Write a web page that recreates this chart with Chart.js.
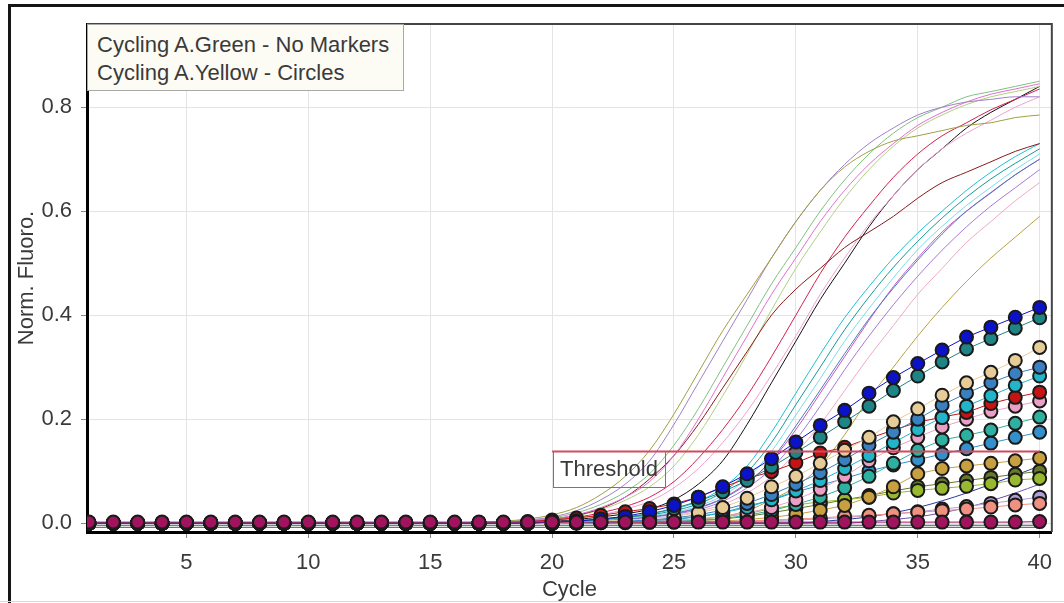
<!DOCTYPE html>
<html>
<head>
<meta charset="utf-8">
<script src="https://cdn.jsdelivr.net/npm/chart.js@4.4.1/dist/chart.umd.min.js"></script>
<style>
  html, body { margin: 0; padding: 0; background: #fff; }
  #wrap { position: relative; width: 1064px; height: 603px; overflow: hidden; }
  #frame { position: absolute; left: 8px; top: 4px; width: 1100px; height: 640px; border-left: 3px solid #151515; border-top: 3px solid #151515; }
  #base { position: absolute; left: 0; top: 601px; width: 1064px; height: 1px; background: #d8d8d8; }
  #c { position: absolute; left: 0; top: 0; }
  #legend {
    position: absolute; left: 87px; top: 24px; width: 317px; height: 67px; box-sizing: border-box;
    background: #fcfcf4; border: 1px solid #a8a8a8; padding: 6px 0 0 9px;
    font: 22px "Liberation Sans", Arial, sans-serif; line-height: 28px; color: #3a3a3a; white-space: nowrap;
  }
</style>
</head>
<body>
<div id="wrap">
  <div id="frame"></div>
  <div id="base"></div>
  <canvas id="c" width="1064" height="603"></canvas>
  <div id="legend">Cycling A.Green - No Markers<br>Cycling A.Yellow - Circles</div>
</div>
<script>
// qPCR amplification plot — Cycling A.Green (lines) + Cycling A.Yellow (circles)
const cycles = [1,2,3,4,5,6,7,8,9,10, 11,12,13,14,15,16,17,18,19,20,
  21,22,23,24,25,26,27,28,29,30, 31,32,33,34,35,36,37,38,39,40];

const thresholdCycles = [20, 40];
const thresholdValue = 0.138;

// --- Cycling A.Green (no markers) ---
const gOlive = [0,0,0,0,0,0,0,0,0,0, 0,0,0,0,0,0,.002,.004,.008,.016,
  .03,.055,.09,.14,.21,.29,.37,.44,.51,.58, .64,.685,.715,.735,.745,.755,.765,.77,.78,.785];
const gPurple = [0,0,0,0,0,0,0,0,0,0, 0,0,0,0,0,0,.001,.003,.006,.012,
  .024,.045,.075,.12,.19,.27,.35,.43,.51,.58, .64,.69,.73,.76,.785,.80,.81,.815,.82,.82];
const gGreen = [0,0,0,0,0,0,0,0,0,0, 0,0,0,0,0,0,0,.002,.005,.01,
  .02,.036,.06,.095,.15,.22,.30,.38,.46,.53, .60,.66,.71,.75,.78,.80,.82,.83,.84,.85];
const gPink = [0,0,0,0,0,0,0,0,0,0, 0,0,0,0,0,0,0,.002,.004,.008,
  .016,.03,.05,.08,.13,.20,.28,.36,.44,.51, .58,.64,.69,.73,.765,.79,.81,.825,.835,.845];
const gDarkRed = [0,0,0,0,0,0,0,0,0,0, 0,0,0,0,0,0,0,.002,.004,.008,
  .015,.028,.05,.085,.13,.19,.26,.33,.40,.45, .49,.53,.56,.59,.625,.655,.675,.695,.715,.73];
const gRed = [0,0,0,0,0,0,0,0,0,0, 0,0,0,0,0,0,0,0,.003,.006,
  .011,.02,.032,.05,.08,.125,.18,.245,.32,.40, .48,.55,.61,.665,.71,.745,.77,.795,.815,.835];
const gRose = [0,0,0,0,0,0,0,0,0,0, 0,0,0,0,0,0,0,0,.002,.005,
  .009,.016,.027,.042,.068,.105,.155,.215,.285,.36, .44,.51,.575,.63,.68,.72,.75,.775,.80,.82];
const gLime = [0,0,0,0,0,0,0,0,0,0, 0,0,0,0,0,0,0,0,.003,.007,
  .014,.026,.044,.07,.11,.17,.245,.325,.41,.49, .56,.625,.68,.725,.76,.785,.805,.82,.83,.84];
const gBlack = [0,0,0,0,0,0,0,0,0,0, 0,0,0,0,0,0,0,0,.002,.004,
  .007,.012,.018,.027,.045,.075,.12,.19,.27,.35, .43,.50,.57,.63,.68,.72,.76,.79,.815,.84];
const gCyan = [0,0,0,0,0,0,0,0,0,0, 0,0,0,0,0,0,0,0,0,.003,
  .005,.008,.012,.018,.027,.042,.068,.11,.175,.25, .325,.395,.455,.51,.558,.60,.64,.675,.705,.73];
const gTeal = [0,0,0,0,0,0,0,0,0,0, 0,0,0,0,0,0,0,0,0,.002,
  .004,.007,.011,.016,.024,.037,.06,.098,.155,.228, .30,.372,.435,.492,.542,.587,.627,.662,.692,.72];
const gAqua = [0,0,0,0,0,0,0,0,0,0, 0,0,0,0,0,0,0,0,0,.002,
  .004,.006,.01,.014,.021,.033,.053,.086,.138,.208, .278,.35,.413,.472,.526,.571,.611,.646,.68,.71];
const gSteel = [0,0,0,0,0,0,0,0,0,0, 0,0,0,0,0,0,0,0,0,0,
  .003,.005,.008,.012,.018,.029,.047,.076,.122,.187, .256,.326,.393,.452,.506,.556,.60,.636,.67,.70];
const gMagenta = [0,0,0,0,0,0,0,0,0,0, 0,0,0,0,0,0,0,0,0,0,
  .003,.005,.008,.012,.019,.03,.048,.078,.12,.18, .25,.32,.39,.455,.51,.56,.60,.635,.67,.70];
const gViolet = [0,0,0,0,0,0,0,0,0,0, 0,0,0,0,0,0,0,0,0,0,
  .002,.004,.007,.011,.017,.026,.042,.068,.105,.16, .225,.295,.36,.42,.475,.525,.57,.61,.645,.68];
const gBlush = [0,0,0,0,0,0,0,0,0,0, 0,0,0,0,0,0,0,0,0,0,
  .002,.004,.006,.009,.014,.023,.036,.058,.09,.135, .19,.255,.32,.38,.44,.49,.54,.58,.62,.655];
const gOchre = [0,0,0,0,0,0,0,0,0,0, 0,0,0,0,0,0,0,0,0,0,
  0,0,0,0,.003,.007,.013,.024,.045,.07, .11,.17,.24,.30,.36,.415,.465,.51,.55,.59];
const gNavy = [0,0,0,0,0,0,0,0,0,0, 0,0,0,0,0,0,0,0,0,0,
  0,0,0,0,0,0,0,0,0,0, .003,.007,.012,.02,.03,.043,.058,.075,.092,.11];
const gPlum = [0,0,0,0,0,0,0,0,0,0, 0,0,0,0,0,0,0,0,0,0,
  0,0,0,0,0,0,0,0,0,0, 0,0,.003,.007,.012,.02,.03,.043,.058,.075];
const gSlate = [-.004,-.004,-.004,-.004,-.004,-.004,-.004,-.004,-.004,-.004,
  -.004,-.004,-.004,-.004,-.004,-.004,-.004,-.004,-.004,-.004,
  -.004,-.004,-.004,-.004,-.004,-.004,-.004,-.004,-.004,-.004,
  -.004,-.004,-.004,-.004,-.004,-.004,-.004,-.004,-.004,-.004];
const gMoss = [-.008,-.008,-.008,-.008,-.008,-.008,-.008,-.008,-.008,-.008,
  -.008,-.008,-.008,-.008,-.008,-.008,-.008,-.008,-.008,-.008,
  -.008,-.008,-.008,-.008,-.008,-.008,-.008,-.008,-.008,-.008,
  -.008,-.008,-.008,-.008,-.008,-.008,-.008,-.008,-.008,-.008];

const greenCurves = [gOlive, gPurple, gGreen, gPink, gDarkRed, gRed, gRose, gLime, gBlack,
  gCyan, gTeal, gAqua, gSteel, gMagenta, gViolet, gBlush, gOchre, gNavy, gPlum, gSlate, gMoss];
const greenColors = ['#a0a040', '#a080c8', '#80c080', '#e070d0', '#8a1a1a', '#d42050', '#f0a0d0', '#b0d080', '#111111',
  '#20c0d0', '#189898', '#78dce8', '#4a7cc0', '#d050c0', '#a878d8', '#f0a8c8', '#b8a040', '#2838a0', '#7050a8', '#3c5a66', '#40603c'];

// --- Cycling A.Yellow (circles) ---
const yMaroon = [.002,.002,.002,.002,.002,.002,.002,.002,.002,.002,
  .002,.002,.002,.002,.002,.002,.002,.002,.002,.002,
  .002,.002,.002,.002,.002,.002,.002,.002,.002,.002,
  .002,.002,.002,.002,.002,.002,.002,.002,.002,.003];
const yBlue = [0,0,0,0,0,0,0,0,0,0, 0,0,0,0,0,0,0,0,0,.002,
  .004,.008,.013,.022,.034,.05,.07,.095,.124,.156, .188,.217,.25,.28,.307,.333,.358,.377,.396,.415];
const yTealDark = [0,0,0,0,0,0,0,0,0,0, 0,0,0,0,0,0,0,0,0,.002,
  .004,.007,.011,.018,.028,.042,.06,.082,.108,.136, .165,.195,.225,.255,.283,.31,.335,.355,.375,.395];
const yTan = [0,0,0,0,0,0,0,0,0,0, 0,0,0,0,0,0,0,0,0,0,
  .002,.004,.006,.008,.013,.02,.03,.048,.07,.09, .115,.14,.165,.195,.22,.246,.27,.29,.313,.338];
const ySteel = [0,0,0,0,0,0,0,0,0,0, 0,0,0,0,0,0,0,0,0,0,
  .002,.003,.004,.006,.01,.016,.025,.038,.055,.075, .097,.122,.15,.175,.20,.227,.25,.27,.288,.30];
const yCyan = [0,0,0,0,0,0,0,0,0,0, 0,0,0,0,0,0,0,0,0,0,
  .001,.002,.003,.005,.008,.013,.02,.03,.045,.062, .082,.105,.13,.155,.18,.203,.225,.245,.265,.283];
const yRed = [0,0,0,0,0,0,0,0,0,0, 0,0,0,0,0,0,0,0,.003,.006,
  .01,.015,.022,.028,.037,.05,.069,.086,.099,.116, .135,.146,.163,.179,.194,.204,.213,.23,.242,.252];
const yPink = [0,0,0,0,0,0,0,0,0,0, 0,0,0,0,0,0,0,0,0,0,
  .001,.002,.003,.004,.005,.008,.013,.02,.03,.045, .065,.09,.12,.145,.165,.185,.20,.215,.225,.235];
const yTeal = [0,0,0,0,0,0,0,0,0,0, 0,0,0,0,0,0,0,0,0,0,
  .001,.002,.003,.004,.004,.005,.009,.015,.024,.036, .05,.068,.09,.115,.14,.16,.169,.179,.192,.204];
const ySky = [0,0,0,0,0,0,0,0,0,0, 0,0,0,0,0,0,0,0,0,0,
  .001,.002,.003,.004,.007,.012,.02,.033,.044,.06, .073,.086,.10,.112,.122,.133,.143,.154,.165,.175];
const yGold = [0,0,0,0,0,0,0,0,0,0, 0,0,0,0,0,0,0,0,0,0,
  .001,.002,.002,.003,.003,.004,.004,.007,.011,.017, .025,.034,.05,.07,.095,.105,.11,.115,.12,.125];
const yLime = [0,0,0,0,0,0,0,0,0,0, 0,0,0,0,0,0,0,0,0,0,
  .001,.002,.003,.004,.005,.008,.012,.018,.028,.035, .041,.045,.05,.058,.063,.067,.071,.076,.083,.086];
const yOlive = [0,0,0,0,0,0,0,0,0,0, 0,0,0,0,0,0,0,0,0,0,
  .001,.002,.003,.004,.004,.005,.008,.013,.02,.028, .036,.045,.053,.062,.07,.076,.082,.088,.094,.10];
const ySalmon = [0,0,0,0,0,0,0,0,0,0, 0,0,0,0,0,0,0,0,0,0,
  .001,.001,.002,.002,.003,.003,.003,.004,.006,.008, .01,.013,.015,.018,.021,.024,.027,.031,.035,.038];
const yLavender = [0,0,0,0,0,0,0,0,0,0, 0,0,0,0,0,0,0,0,0,0,
  0,.001,.001,.002,.002,.003,.003,.004,.005,.006, .008,.011,.014,.018,.022,.027,.032,.038,.044,.05];

const yellowCurves = [yBlue, yTealDark, yTan, ySteel, yCyan, yRed, yPink, yTeal, ySky, yGold, yLime, yOlive, ySalmon, yLavender];
const yellowColors = ['#0c12c8', '#1e8486', '#e8cc98', '#3a80c0', '#22b4c8', '#c41414', '#eaa0c4', '#2eb0a0', '#3490cc', '#c8a040', '#98b830', '#66782a', '#f09080', '#b0a0d8'];

const pts = (vals) => cycles.map((c, i) => ({ x: c, y: vals[i] }));
const F = { family: '"Liberation Sans", Arial, sans-serif', size: 22 };
const TXT = '#3a3a3a';

const marker = (col, vals, order) => ({
  data: pts(vals), order,
  borderColor: col, borderWidth: 1, pointRadius: 6.5, pointBorderWidth: 2,
  pointBackgroundColor: col, pointBorderColor: '#1a1a1a',
});

const datasets = [
  marker('#a0145e', yMaroon, 0),
  { data: thresholdCycles.map((c) => ({ x: c, y: thresholdValue })), order: 1,
    borderColor: '#d24a5a', borderWidth: 2, pointRadius: 0 },
  ...yellowCurves.map((v, i) => marker(yellowColors[i], v, 2)),
  ...greenCurves.map((v, i) => ({ data: pts(v), order: 3, borderColor: greenColors[i], borderWidth: 1,
    pointRadius: 0, cubicInterpolationMode: 'monotone' })),
];

// top/right plot border and the threshold label box
const extras = {
  id: 'extras',
  beforeDatasetsDraw(chart) {
    const { ctx, chartArea: a } = chart;
    ctx.save();
    ctx.strokeStyle = '#444'; ctx.lineWidth = 2;
    ctx.beginPath(); ctx.moveTo(a.left, a.top); ctx.lineTo(a.right, a.top); ctx.lineTo(a.right, a.bottom); ctx.stroke();
    ctx.restore();
  },
  afterDatasetsDraw(chart) {
    const { ctx, scales } = chart;
    const x0 = scales.x.getPixelForValue(thresholdCycles[0]) + 1;
    const y0 = scales.y.getPixelForValue(thresholdValue);
    ctx.save();
    ctx.font = `${F.size}px ${F.family}`;
    const w = ctx.measureText('Threshold').width + 14;
    ctx.strokeStyle = '#777'; ctx.lineWidth = 1;
    ctx.strokeRect(Math.round(x0) + 0.5, Math.round(y0) + 0.5, Math.round(w), 36);
    ctx.fillStyle = TXT; ctx.textBaseline = 'middle';
    ctx.fillText('Threshold', x0 + 7, y0 + 19);
    ctx.restore();
  },
};

new Chart(document.getElementById('c'), {
  type: 'line',
  data: { datasets },
  options: {
    responsive: false, animation: false, devicePixelRatio: 1,
    layout: { padding: { left: 12, top: 24, right: 10, bottom: 0 } },
    plugins: { legend: { display: false }, tooltip: { enabled: false } },
    scales: {
      x: {
        type: 'linear', min: 0.92, max: 40.5,
        border: { color: '#000', width: 3 },
        grid: { color: '#e4e4e4', tickColor: '#888', tickLength: 6 },
        ticks: { stepSize: 5, includeBounds: false, padding: 12, color: TXT, font: F, maxRotation: 0 },
        title: { display: true, text: 'Cycle', color: TXT, font: F, padding: { top: 0, bottom: 0 } },
        afterFit: (s) => { s.height = 71; },
      },
      y: {
        type: 'linear', min: -0.017, max: 0.96,
        border: { color: '#000', width: 3 },
        grid: { color: '#e4e4e4', tickColor: '#888', tickLength: 6 },
        ticks: { stepSize: 0.2, includeBounds: false, padding: 9, color: TXT, font: F, callback: (v) => v.toFixed(1) },
        title: { display: true, text: 'Norm. Fluoro.', color: TXT, font: F, padding: { top: 2, bottom: 0 } },
        afterFit: (s) => { s.width = 75; },
      },
    },
  },
  plugins: [extras],
});
</script>
</body>
</html>
